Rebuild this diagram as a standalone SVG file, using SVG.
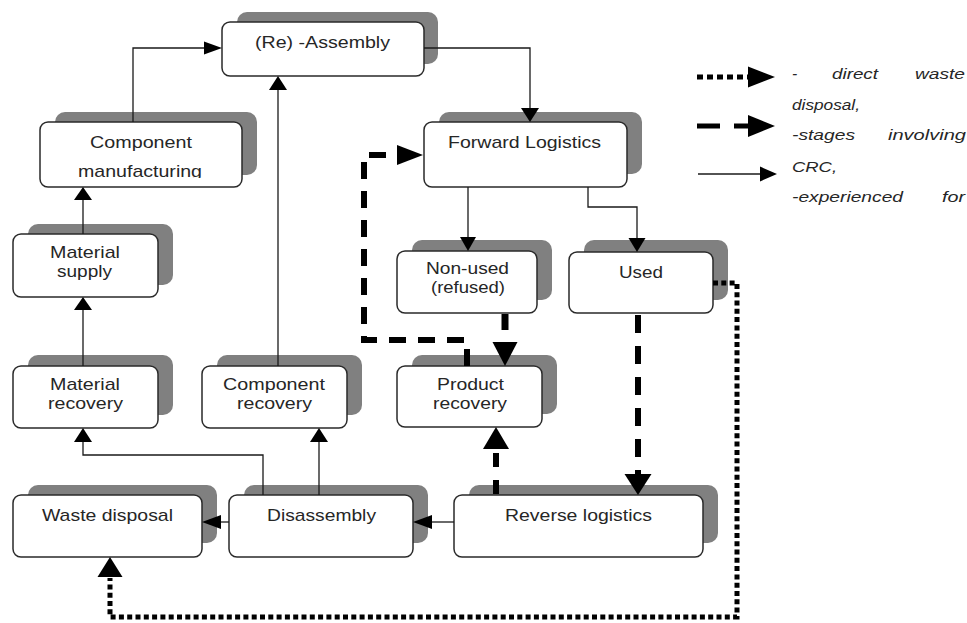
<svg xmlns="http://www.w3.org/2000/svg" width="967" height="623" viewBox="0 0 967 623">
  <defs>
    <style>
      .shadow { fill: #808080; }
      .box { fill: #ffffff; stroke: #2a2a2a; stroke-width: 1.5; }
      .lbl { font-family: "Liberation Sans", Arial, sans-serif; font-size: 17px; fill: #262626; }
      .leg { font-family: "Liberation Sans", Arial, sans-serif; font-size: 15.5px; font-style: italic; fill: #262626; }
      .thin { fill: none; stroke: #1a1a1a; stroke-width: 1.3; }
      .dash { fill: none; stroke: #000; stroke-width: 6; stroke-dasharray: 17 12; }
      .thick { fill: none; stroke: #000; stroke-width: 7; }
      .dot { fill: none; stroke: #000; stroke-width: 5; stroke-dasharray: 5 3.3; }
      .head { fill: #000; }
    </style>
    <clipPath id="clip-compman">
      <rect x="40" y="122" width="202" height="56"/>
    </clipPath>
  </defs>

  <rect width="967" height="623" fill="#ffffff"/>

  <!-- process stages -->
  <g id="node-assembly">
    <rect class="shadow" x="237" y="12" width="201" height="52" rx="10"/>
    <rect class="box" x="222" y="22" width="202" height="54" rx="8"/>
    <text class="lbl" x="255" y="48" textLength="135" lengthAdjust="spacingAndGlyphs">(Re) -Assembly</text>
  </g>

  <g id="node-forward-logistics">
    <rect class="shadow" x="439" y="112" width="203" height="62" rx="10"/>
    <rect class="box" x="424" y="122" width="203" height="65" rx="8"/>
    <text class="lbl" x="448" y="148" textLength="153" lengthAdjust="spacingAndGlyphs">Forward Logistics</text>
  </g>

  <g id="node-component-manufacturing">
    <rect class="shadow" x="55" y="112" width="202" height="63" rx="10"/>
    <rect class="box" x="40" y="122" width="202" height="65" rx="8"/>
    <text class="lbl" x="90" y="148" textLength="102" lengthAdjust="spacingAndGlyphs">Component</text>
    <text class="lbl" x="78" y="177" textLength="124" lengthAdjust="spacingAndGlyphs" clip-path="url(#clip-compman)">manufacturing</text>
  </g>

  <g id="node-material-supply">
    <rect class="shadow" x="28" y="224" width="145" height="61" rx="10"/>
    <rect class="box" x="13" y="234" width="145" height="63" rx="8"/>
    <text class="lbl" x="50" y="257.5" textLength="70" lengthAdjust="spacingAndGlyphs">Material</text>
    <text class="lbl" x="57" y="276.5" textLength="55" lengthAdjust="spacingAndGlyphs">supply</text>
  </g>

  <g id="node-material-recovery">
    <rect class="shadow" x="28" y="355" width="145" height="60" rx="10"/>
    <rect class="box" x="13" y="366" width="145" height="62" rx="8"/>
    <text class="lbl" x="50" y="390" textLength="70" lengthAdjust="spacingAndGlyphs">Material</text>
    <text class="lbl" x="48" y="409" textLength="75" lengthAdjust="spacingAndGlyphs">recovery</text>
  </g>

  <g id="node-component-recovery">
    <rect class="shadow" x="217" y="355" width="145" height="60" rx="10"/>
    <rect class="box" x="202" y="366" width="145" height="62" rx="8"/>
    <text class="lbl" x="223" y="390" textLength="102" lengthAdjust="spacingAndGlyphs">Component</text>
    <text class="lbl" x="237" y="409" textLength="75" lengthAdjust="spacingAndGlyphs">recovery</text>
  </g>

  <g id="node-non-used">
    <rect class="shadow" x="412" y="240" width="140" height="60" rx="10"/>
    <rect class="box" x="397" y="251" width="140" height="62" rx="8"/>
    <text class="lbl" x="426" y="274" textLength="83" lengthAdjust="spacingAndGlyphs">Non-used</text>
    <text class="lbl" x="431" y="293" textLength="74" lengthAdjust="spacingAndGlyphs">(refused)</text>
  </g>

  <g id="node-used">
    <rect class="shadow" x="584" y="240" width="144" height="60" rx="10"/>
    <rect class="box" x="569" y="252" width="144" height="61" rx="8"/>
    <text class="lbl" x="619" y="278" textLength="44" lengthAdjust="spacingAndGlyphs">Used</text>
  </g>

  <g id="node-product-recovery">
    <rect class="shadow" x="412" y="355" width="145" height="59" rx="10"/>
    <rect class="box" x="397" y="366" width="145" height="61" rx="8"/>
    <text class="lbl" x="437" y="390" textLength="67" lengthAdjust="spacingAndGlyphs">Product</text>
    <text class="lbl" x="433" y="409" textLength="74" lengthAdjust="spacingAndGlyphs">recovery</text>
  </g>

  <g id="node-waste-disposal">
    <rect class="shadow" x="28" y="485" width="189" height="58" rx="10"/>
    <rect class="box" x="13" y="495" width="189" height="62" rx="8"/>
    <text class="lbl" x="42" y="521" textLength="131" lengthAdjust="spacingAndGlyphs">Waste disposal</text>
  </g>

  <g id="node-disassembly">
    <rect class="shadow" x="244" y="485" width="184" height="58" rx="10"/>
    <rect class="box" x="229" y="495" width="184" height="62" rx="8"/>
    <text class="lbl" x="267" y="521" textLength="109" lengthAdjust="spacingAndGlyphs">Disassembly</text>
  </g>

  <g id="node-reverse-logistics">
    <rect class="shadow" x="469" y="485" width="249" height="58" rx="10"/>
    <rect class="box" x="454" y="495" width="249" height="62" rx="8"/>
    <text class="lbl" x="505" y="521" textLength="147" lengthAdjust="spacingAndGlyphs">Reverse logistics</text>
  </g>

  <!-- flows between stages -->
  <g id="connectors">
    <!-- solid flows -->
    <path class="thin" d="M133,122 V48 H205"/>
    <polygon class="head" points="222,48 204,41.5 204,54.5"/>
    <path class="thin" d="M278,366 V89"/>
    <polygon class="head" points="278,76 269,90 287,90"/>
    <path class="thin" d="M424,48 H530 V109"/>
    <polygon class="head" points="530,122 521,108 539,108"/>
    <path class="thin" d="M468,187 V238"/>
    <polygon class="head" points="468,251 460,237 476,237"/>
    <path class="thin" d="M588,187 V207 H637 V239"/>
    <polygon class="head" points="637,252 628.5,238 645.5,238"/>
    <path class="thin" d="M83,234 V199"/>
    <polygon class="head" points="83,187 74,200 92,200"/>
    <path class="thin" d="M83,366 V309"/>
    <polygon class="head" points="83,297 74,310 92,310"/>
    <path class="thin" d="M263,495 V455 H83 V441"/>
    <polygon class="head" points="83,428 74,442 92,442"/>
    <path class="thin" d="M319,495 V441"/>
    <polygon class="head" points="319,428 310,442 328,442"/>
    <path class="thin" d="M229,522 H220"/>
    <polygon class="head" points="202,522 221,515 221,529"/>
    <path class="thin" d="M454,522 H431"/>
    <polygon class="head" points="413,522 432,515 432,529"/>

    <!-- CRC stages (dashed) -->
    <path class="dash" d="M467,366 V340 H364 V155 H386"/>
    <polygon class="head" points="423,155 397,145 397,165"/>
    <path class="thick" d="M505,314 V330"/>
    <polygon class="head" points="505,366 492.5,342 517.5,342"/>
    <path class="dash" style="stroke-dasharray:18 13" d="M638,315 V475"/>
    <polygon class="head" points="638,495 624.5,474 651.5,474"/>
    <path class="dash" style="stroke-dasharray:14 13" d="M496,494 V449"/>
    <polygon class="head" points="496,427 483,449 509,449"/>

    <!-- direct waste disposal (dotted) -->
    <path class="dot" d="M713,283 H737 V617 H110 V578"/>
    <polygon class="head" points="110,557 97.5,577 122.5,577"/>
  </g>

  <!-- key -->
  <g id="legend">
    <path class="dot" style="stroke-dasharray:6 4" d="M697,77 H748"/>
    <polygon class="head" points="775,77 748,66.5 748,87.5"/>
    <path class="dash" style="stroke-width:5;stroke-dasharray:23 14" d="M697,126 H748"/>
    <polygon class="head" points="775,126 748,115 748,137"/>
    <path class="thin" d="M698,174 H761"/>
    <polygon class="head" points="777,174 760,166.5 760,181.5"/>

    <text class="leg" x="792" y="79">-</text>
    <text class="leg" x="832" y="79" textLength="46" lengthAdjust="spacingAndGlyphs">direct</text>
    <text class="leg" x="915" y="79" textLength="50" lengthAdjust="spacingAndGlyphs">waste</text>
    <text class="leg" x="792" y="110" textLength="68" lengthAdjust="spacingAndGlyphs">disposal,</text>
    <text class="leg" x="792" y="140" textLength="63" lengthAdjust="spacingAndGlyphs">-stages</text>
    <text class="leg" x="888" y="140" textLength="78" lengthAdjust="spacingAndGlyphs">involving</text>
    <text class="leg" x="792" y="172" textLength="45" lengthAdjust="spacingAndGlyphs">CRC,</text>
    <text class="leg" x="792" y="202" textLength="111" lengthAdjust="spacingAndGlyphs">-experienced</text>
    <text class="leg" x="942" y="202" textLength="23" lengthAdjust="spacingAndGlyphs">for</text>
  </g>
</svg>
